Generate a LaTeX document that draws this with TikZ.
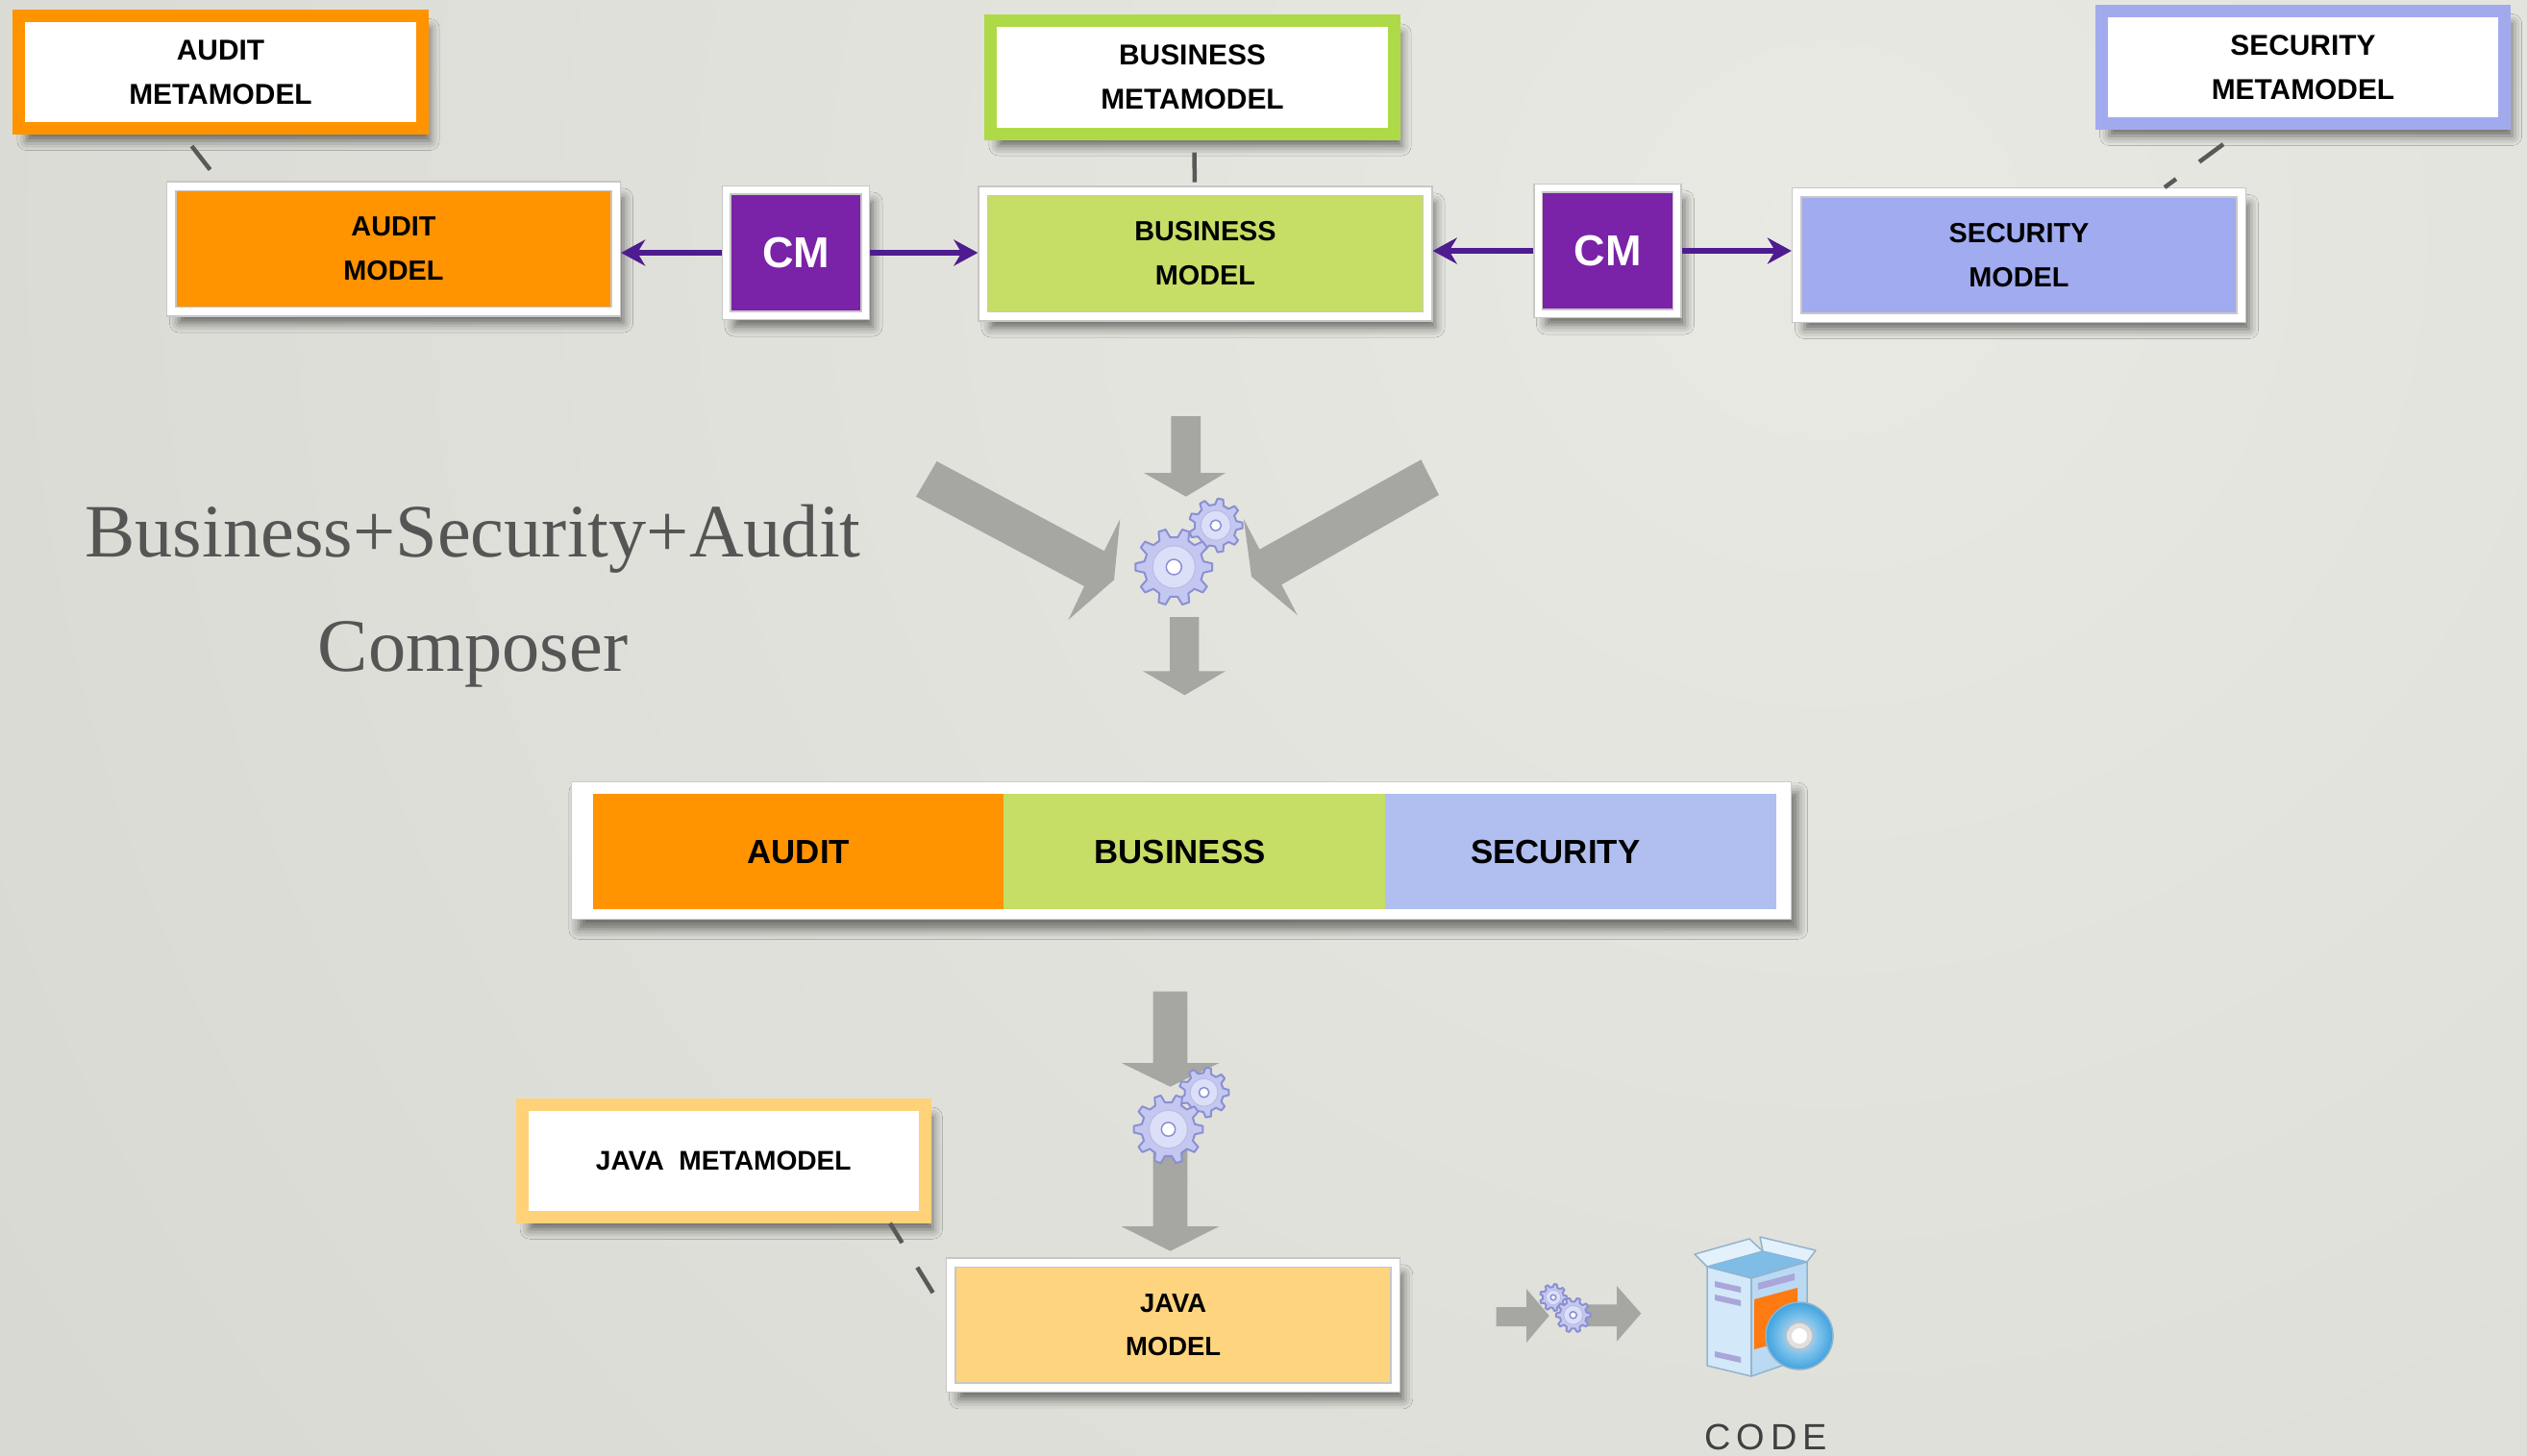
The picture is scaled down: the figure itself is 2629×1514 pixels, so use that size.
\documentclass[tikz,border=0pt]{standalone}
\usepackage{fontspec}
\setmainfont{Liberation Sans}
\newfontfamily\composerfont{Liberation Serif}
\usepackage{xcolor}
\usepackage{tikz}
\usetikzlibrary{arrows.meta, positioning, calc, shadows.blur}
\definecolor{mde-orange}{HTML}{FF9300}
\definecolor{mde-lime}{HTML}{AEDA48}
\definecolor{mde-green}{HTML}{C6DD66}
\definecolor{mde-lilac}{HTML}{A2AAEE}
\definecolor{mde-blue}{HTML}{A1ABF0}
\definecolor{mde-sky}{HTML}{B0BEF0}
\definecolor{mde-sand}{HTML}{FFD27A}
\definecolor{mde-yellow}{HTML}{FFD47E}
\definecolor{mde-purple}{HTML}{7A22A8}
\definecolor{mde-link}{HTML}{4E1C90}
\definecolor{mde-arrow}{HTML}{A6A6A2}
\definecolor{mde-text}{HTML}{555555}
\definecolor{mde-bg}{HTML}{E9E9E4}
\definecolor{mde-bgdark}{HTML}{CACAC4}
\definecolor{gear-fill}{HTML}{C4C8F0}
\definecolor{gear-light}{HTML}{DCDFF8}
\definecolor{gear-edge}{HTML}{8A90D2}
\definecolor{pkg-side}{HTML}{D3E8F8}
\definecolor{pkg-front}{HTML}{B9DAF2}
\definecolor{pkg-inside}{HTML}{7FBCE6}
\definecolor{pkg-flap}{HTML}{E2F1FB}
\definecolor{pkg-edge}{HTML}{93B3CB}
\definecolor{pkg-stripe}{HTML}{A9A6D9}
\definecolor{pkg-panel}{HTML}{FF7A10}
\definecolor{pkg-disc}{HTML}{3FA3E0}

% small cog: center, outer radius, teeth
\newcommand{\cogwheel}[3]{%
  \begin{scope}[shift={#1}]
    \pgfmathsetmacro\cogin{0.78*#2}
    \pgfmathsetmacro\cogstep{360/#3}
    \pgfmathtruncatemacro\cogn{#3-1}
    \filldraw[gear] ({-0.3*\cogstep}:\cogin)
      \foreach \k in {0,...,\cogn}{
        -- ({(\k-0.3)*\cogstep}:\cogin) -- ({(\k-0.15)*\cogstep}:#2)
        -- ({(\k+0.15)*\cogstep}:#2) -- ({(\k+0.3)*\cogstep}:\cogin)
      } -- cycle;
    \filldraw[fill=gear-light, draw=gear-edge!60, line width=0.01cm] (0,0) circle (0.55*#2);
    \filldraw[fill=white, draw=gear-edge, line width=0.015cm] (0,0) circle (0.2*#2);
  \end{scope}}

\begin{document}
\begin{tikzpicture}[
		x=0.01cm, y=-0.01cm,
		metabox/.style={
			draw=#1, fill=white,
			line width=0.13cm,
			minimum width=4.19cm, minimum height=1.17cm,
			inner sep=0pt, align=center,
			font=\fontsize{8.5}{13.1}\selectfont\bfseries,
			blur shadow={shadow xshift=0.08cm, shadow yshift=-0.13cm, shadow blur radius=0.1cm, shadow opacity=55}
		},
		modelbox/.style={
			fill=#1, draw=black!22,
			line width=0.015cm, double=white, double distance=0.08cm,
			minimum width=4.62cm, minimum height=1.30cm,
			inner sep=0pt, outer sep=0.055cm, align=center,
			font=\fontsize{8.2}{13.1}\selectfont\bfseries,
			blur shadow={shadow xshift=0.08cm, shadow yshift=-0.12cm, shadow blur radius=0.1cm, shadow opacity=55}
		},
		cmbox/.style={
			fill=mde-purple, draw=black!22,
			line width=0.015cm, double=white, double distance=0.07cm,
			minimum width=1.44cm, minimum height=1.30cm,
			inner sep=0pt, outer sep=0.05cm,
			text=white, font=\fontsize{12.8}{14}\selectfont\bfseries,
			blur shadow={shadow xshift=0.08cm, shadow yshift=-0.12cm, shadow blur radius=0.1cm, shadow opacity=55}
		},
		framebox/.style={
			fill=white, draw=black!20, line width=0.01cm,
			minimum width=12.68cm, minimum height=1.43cm,
			blur shadow={shadow xshift=0.07cm, shadow yshift=-0.11cm, shadow blur radius=0.1cm, shadow opacity=50}
		},
		cmpseg/.style={
			inner sep=0pt, outer sep=0pt,
			minimum height=1.20cm
		},
		cmptext/.style={font=\fontsize{9.9}{12}\selectfont\bfseries},
		cmlink/.style={
			draw=mde-link, line width=0.06cm,
			-{Stealth[length=0.25cm, width=0.27cm, inset=0.08cm]}
		},
		metalink/.style={
			draw=black!65, line width=0.045cm,
			dash pattern=on 0.31cm off 0.30cm
		},
		bigarrow/.style={fill=mde-arrow},
		gear/.style={fill=gear-fill, draw=gear-edge, line width=0.02cm, line join=round},
		captiontext/.style={
			align=center, inner sep=0pt, text=mde-text,
			font=\composerfont\fontsize{22.3}{33.9}\selectfont
		},
		codelabel/.style={
			inner sep=0pt, text=black!75,
			font=\fontsize{10.8}{12}\selectfont\addfontfeature{LetterSpace=16}
		}
		]
		
		\useasboundingbox (0,0) rectangle (2629,1514);
		
		% paper background
		\begin{scope}
			\clip (0,0) rectangle (2629,1514);
			\fill[mde-bgdark] (0,0) rectangle (2629,1514);
			\shade[inner color=mde-bg, outer color=mde-bgdark] (1900,250) circle (4300);
		\end{scope}
		
		% audit
		\node[metabox=mde-orange] (audmeta) at (229.5,75) {AUDIT\\METAMODEL};
		\node[modelbox=mde-orange] (audmod) at (409.5,259) {AUDIT\\MODEL};
		
		% business
		\node[metabox=mde-lime] (busmeta) at (1240.5,80.5) {BUSINESS\\METAMODEL};
		\node[modelbox=mde-green] (busmod) at (1254,264) {BUSINESS\\MODEL};
		
		% security
		\node[metabox=mde-lilac] (secmeta) at (2396,70) {SECURITY\\METAMODEL};
		\node[modelbox=mde-blue] (secmod) at (2100.5,265.5) {SECURITY\\MODEL};
		
		% correspondence models
		\node[cmbox] (cm1) at (828,263) {CM};
		\node[cmbox] (cm2) at (1672.5,261) {CM};
		
		\draw[cmlink] (cm1.west) -- (cm1.west -| audmod.east);
		\draw[cmlink] (cm1.east) -- (cm1.east -| busmod.west);
		\draw[cmlink] (cm2.west) -- (cm2.west -| busmod.east);
		\draw[cmlink] (cm2.east) -- (cm2.east -| secmod.west);
		
		% conformance
		\draw[metalink] ($(audmeta.south)+(-30,12)$) -- ($(audmod.north west)+(55,0)$);
		\draw[metalink] ($(busmeta.south)+(2,13)$) -- ($(busmod.north)+(-11,0)$);
		\draw[metalink] ($(secmeta.south)+(-83,15)$) -- ($(secmod.north)+(151.5,0)$);
		
		% composer
		\node[captiontext] (composer) at (492,620) {Business+Security+Audit\\Composer};
		
		\fill[bigarrow] (974.6,480) -- (1148.8,573.3) -- (1165.3,540) -- (1159,603.3)
		-- (1111.4,645) -- (1128,610) -- (953,516.7) -- cycle;
		\fill[bigarrow] (1478.4,478.3) -- (1310.4,571.7) -- (1293.9,540) -- (1302,600)
		-- (1349.8,640) -- (1333.3,608.3) -- (1497,515) -- cycle;
		\fill[bigarrow] (1218.4,433) -- (1249,433) -- (1249,492) -- (1275,492)
		-- (1233.8,516.7) -- (1190,492) -- (1218.4,492) -- cycle;
		\fill[bigarrow] (1217,642) -- (1247.4,642) -- (1247.4,698.3) -- (1275,698.3)
		-- (1232.5,723.3) -- (1189,698.3) -- (1217,698.3) -- cycle;
		\cogwheel{(1264.8,546.7)}{28}{9}
		\cogwheel{(1221.3,590)}{40}{10}
		
		% composed model
		\node[framebox] (cmpframe) at (1229.3,884.7) {};
		\node[cmpseg, fill=mde-orange, minimum width=4.27cm,
		label={[cmptext]center:AUDIT}] (cmpaud) at (830.8,886.3) {};
		\node[cmpseg, fill=mde-green, minimum width=3.96cm, right=0pt of cmpaud,
		label={[cmptext, xshift=-0.15cm]center:BUSINESS}] (cmpbus) {};
		\node[cmpseg, fill=mde-sky, minimum width=4.07cm, right=0pt of cmpbus,
		label={[cmptext, xshift=-0.26cm]center:SECURITY}] (cmpsec) {};
		
		% transformation to java
		\fill[bigarrow] (1199.6,1031.7) -- (1235.3,1031.7) -- (1235.3,1106) -- (1268.5,1106)
		-- (1217.5,1130.7) -- (1166.5,1106) -- (1199.6,1106) -- cycle;
		\fill[bigarrow] (1199.6,1170) -- (1235.3,1170) -- (1235.3,1276) -- (1268.5,1276)
		-- (1217.5,1301.7) -- (1166.5,1276) -- (1199.6,1276) -- cycle;
		\cogwheel{(1252.6,1136.7)}{26}{9}
		\cogwheel{(1215.5,1175)}{36}{10}
		
		\node[metabox=mde-sand, font=\fontsize{8}{12}\selectfont\bfseries] (javameta) at (752.8,1207.7) {JAVA~~METAMODEL};
		\node[modelbox=mde-yellow, font=\fontsize{7.8}{12.8}\selectfont\bfseries] (javamod) at (1220.6,1378.8) {JAVA\\MODEL};
		\draw[metalink, dash phase=0.07cm] ($(javameta.south east)+(-43,0)$) -- ($(javamod.west)+(0,-12)$);
		
		% code generation
		\fill[bigarrow] (1556.7,1360) -- (1588,1360) -- (1588,1341) -- (1611.7,1369)
		-- (1588,1397) -- (1588,1380) -- (1556.7,1380) -- cycle;
		\fill[bigarrow] (1640,1357.3) -- (1682,1357.3) -- (1682,1338) -- (1707.3,1366.7)
		-- (1682,1395.7) -- (1682,1380) -- (1640,1380) -- cycle;
		\cogwheel{(1616,1350)}{14}{9}
		\cogwheel{(1636.7,1368.3)}{18}{10}
		
		% software package
		\begin{scope}[line width=0.015cm, line join=round]
			\filldraw[fill=pkg-flap, draw=pkg-edge] (1776,1318) -- (1763,1305) -- (1820,1289) -- (1834,1302) -- cycle;
			\filldraw[fill=pkg-flap, draw=pkg-edge] (1834,1302) -- (1831,1287) -- (1889,1301) -- (1880,1313) -- cycle;
			\fill[pkg-inside] (1776,1318) -- (1834,1302) -- (1880,1313) -- (1822,1330) -- cycle;
			\filldraw[fill=pkg-side, draw=pkg-edge] (1776,1318) -- (1822,1330) -- (1822,1432) -- (1776,1421) -- cycle;
			\filldraw[fill=pkg-front, draw=pkg-edge] (1822,1330) -- (1880,1313) -- (1880,1412) -- (1822,1432) -- cycle;
			\fill[pkg-stripe] (1784,1333) -- (1811,1339) -- (1811,1345) -- (1784,1339) -- cycle;
			\fill[pkg-stripe] (1784,1347) -- (1811,1353) -- (1811,1359) -- (1784,1353) -- cycle;
			\fill[pkg-stripe] (1784,1406) -- (1811,1412) -- (1811,1418) -- (1784,1412) -- cycle;
			\fill[pkg-stripe] (1829,1335) -- (1867,1325) -- (1867,1332) -- (1829,1342) -- cycle;
			\fill[pkg-panel] (1825,1352) -- (1870,1340) -- (1870,1392) -- (1825,1404) -- cycle;
			\shade[inner color=pkg-disc!25, outer color=pkg-disc, draw=pkg-edge] (1872,1390) circle (35);
			\filldraw[fill=black!12, draw=black!25] (1872,1390) circle (14);
			\fill[white] (1872,1390) circle (8);
		\end{scope}
		\node[codelabel] (code) at (1837,1495) {CODE};
		
	\end{tikzpicture}
\end{document}
